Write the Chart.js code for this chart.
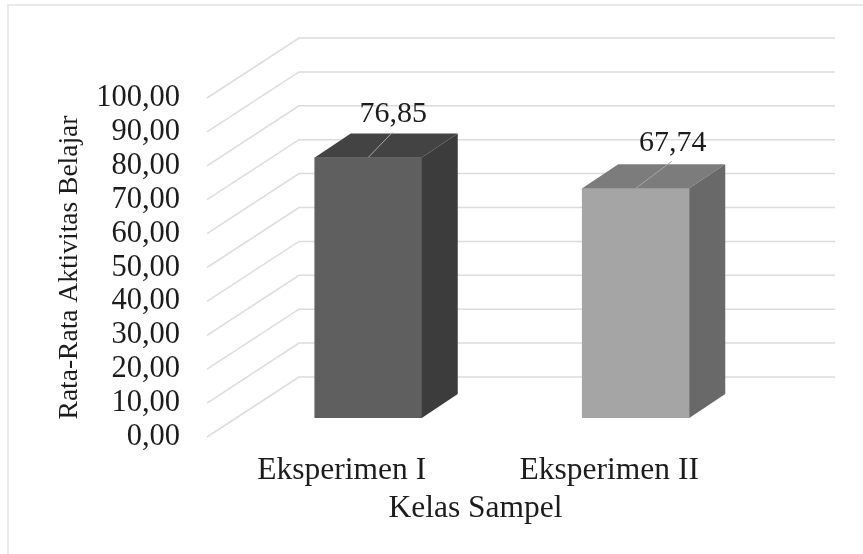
<!DOCTYPE html>
<html><head><meta charset="utf-8">
<style>html,body{margin:0;padding:0;background:#fff}canvas{display:block;filter:blur(0.35px)}</style>
<script src="https://cdn.jsdelivr.net/npm/chart.js@4"></script></head>
<body><canvas id="c" width="863" height="554"></canvas>
<script>
const categories = ["Eksperimen I", "Eksperimen II"];
const values = [76.85, 67.74];
const frontColors = ["#5f5f5f", "#a5a5a5"];
const topColors = ["#434343", "#7c7c7c"];
const sideColors = ["#3c3c3c", "#696969"];
const leaderOffsets = [[24, -25], [36, -27]];
const yTitle = "Rata-Rata Aktivitas Belajar";
const xTitle = "Kelas Sampel";
const fmt = v => v.toFixed(2).replace(".", ",");
const FONT = "'Liberation Serif'";
const TEXT = "#1c1c1c";
const floorShift = [26.5, -19];   // bars stand forward on the floor of the 3D box
const depth = [36, -24];          // bar depth
const wall = [92, -60];           // wall depth

const scale3d = {
  id: "scale3d",
  beforeDraw(chart) {
    const c = chart.ctx;
    c.save();
    c.strokeStyle = "#e2e2e2"; c.lineWidth = 1.5;
    c.beginPath();
    c.moveTo(8, 554); c.lineTo(8, 5); c.lineTo(863, 5);
    c.stroke();
    c.restore();
  },
  beforeDatasetsDraw(chart) {
    const c = chart.ctx, y = chart.scales.y, a = chart.chartArea;
    c.save();
    c.strokeStyle = "#dcdcdc"; c.lineWidth = 1.5;
    y.ticks.forEach(t => {
      const py = y.getPixelForValue(t.value);
      c.beginPath();
      c.moveTo(a.left - 1, py);
      c.lineTo(a.left - 1 + wall[0], py + wall[1]);
      c.lineTo(835, py + wall[1]);
      c.stroke();
    });
    c.restore();
    c.save();
    c.translate(floorShift[0], floorShift[1]);
  },
  afterDatasetsDraw(chart) {
    const c = chart.ctx;
    c.restore();
    chart.getDatasetMeta(0).data.forEach((bar, i) => {
      const p = bar.getProps(["x", "y", "base", "width"], true);
      const l = p.x - p.width / 2 + floorShift[0], r = l + p.width;
      const t = p.y + floorShift[1], b = p.base + floorShift[1];
      const poly = (pts, col) => {
        c.fillStyle = col; c.beginPath();
        pts.forEach((q, k) => k ? c.lineTo(q[0], q[1]) : c.moveTo(q[0], q[1]));
        c.closePath(); c.fill();
      };
      poly([[l, t], [r, t], [r + depth[0], t + depth[1]], [l + depth[0], t + depth[1]]], topColors[i]);
      poly([[r, t], [r, b], [r + depth[0], b + depth[1]], [r + depth[0], t + depth[1]]], sideColors[i]);
      const cx = (l + r) / 2, [dx, dy] = leaderOffsets[i];
      c.strokeStyle = "#a6a6a6"; c.lineWidth = 1;
      c.beginPath(); c.moveTo(cx, t); c.lineTo(cx + dx, t + dy); c.stroke();
      c.fillStyle = TEXT; c.font = "30px " + FONT;
      c.textAlign = "center"; c.textBaseline = "middle";
      c.fillText(fmt(values[i]), cx + dx + 1, t + dy - 18);
    });
  }
};

new Chart(document.getElementById("c"), {
  type: "bar",
  data: { labels: categories, datasets: [{ data: values, backgroundColor: frontColors, borderWidth: 0, barThickness: 107 }] },
  plugins: [scale3d],
  options: {
    responsive: false, animation: false,
    layout: { padding: { left: 53, right: 120, top: 98, bottom: 26 } },
    plugins: { legend: { display: false }, tooltip: { enabled: false } },
    scales: {
      x: {
        grid: { display: false }, border: { display: false },
        ticks: { color: TEXT, font: { family: FONT, size: 31.5 }, padding: 7, maxRotation: 0 },
        title: { display: true, text: xTitle, color: TEXT, font: { family: FONT, size: 31.5 }, padding: 0 },
        afterFit: s => { s.height = 91; }
      },
      y: {
        min: 0, max: 100,
        grid: { display: false }, border: { display: false },
        ticks: { stepSize: 10, autoSkip: false, color: TEXT, font: { family: FONT, size: 30.5 }, padding: 20, callback: v => fmt(v) },
        title: { display: true, text: yTitle, color: TEXT, font: { family: FONT, size: 27.5 }, padding: 0 },
        afterFit: s => { s.width = 155; }
      }
    }
  }
});
</script></body></html>
